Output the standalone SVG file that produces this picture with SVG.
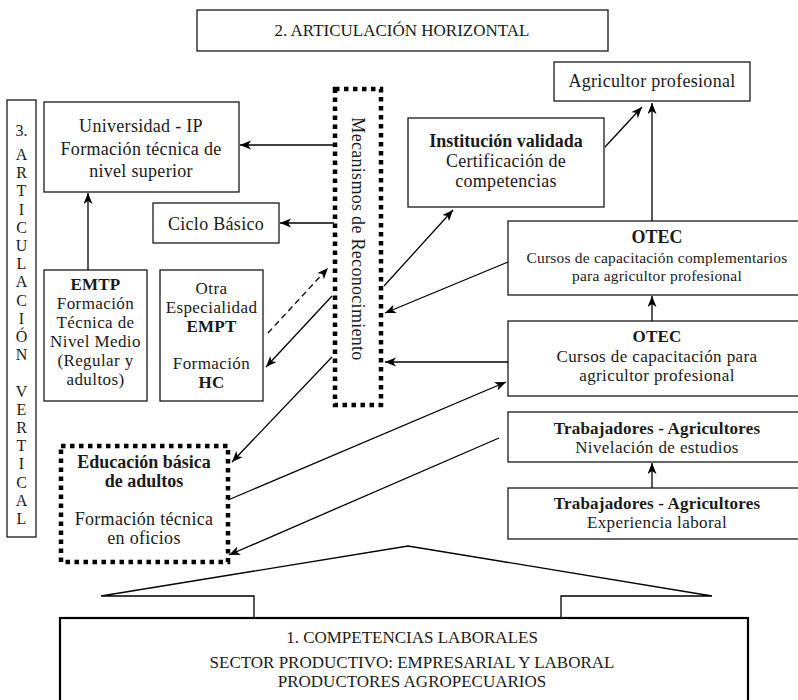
<svg xmlns="http://www.w3.org/2000/svg" width="798" height="700" viewBox="0 0 798 700">
<style>
text{font-family:"Liberation Serif","DejaVu Serif",serif;fill:#1a1a1a;text-anchor:middle}
.t{font-size:18px;letter-spacing:0.3px}
.b{font-size:18px;font-weight:bold}
.m{font-size:17px;letter-spacing:0.4px}
.mb{font-size:17px;font-weight:bold;letter-spacing:0.2px}
.c{font-size:17px}
.v{font-size:16px}
.s{font-size:15.5px;letter-spacing:0.2px}
.box{fill:#fff;stroke:#1a1a1a;stroke-width:1.3}
.dot{fill:#fff;stroke:#000;stroke-width:4.5;stroke-dasharray:4.5 4.5}
.thick{fill:#fff;stroke:#000;stroke-width:2.2}
.ln{fill:none;stroke:#000;stroke-width:1.3}
.ar{marker-end:url(#ah)}
</style>
<defs>
<marker id="ah" markerUnits="userSpaceOnUse" markerWidth="12" markerHeight="10" refX="11" refY="4.5" orient="auto">
<path d="M0,0 L11,4.5 L0,9 L3,4.5 z" fill="#000"/>
</marker>
</defs>
<rect width="798" height="700" fill="#fff"/>

<g id="articulacion-horizontal">
<rect class="box" x="197" y="10" width="411" height="41"/>
<text class="c" x="402" y="36">2. ARTICULACIÓN HORIZONTAL</text>
</g>

<g id="agricultor-profesional">
<rect class="box" x="554" y="62" width="196" height="39"/>
<text class="t" x="652" y="87">Agricultor profesional</text>
</g>

<g id="universidad">
<rect class="box" x="44" y="102" width="195" height="90"/>
<text class="t" x="141" y="132">Universidad - IP</text>
<text class="t" x="141" y="155">Formación técnica de</text>
<text class="t" x="141" y="177">nivel superior</text>
</g>

<g id="ciclo-basico">
<rect class="box" x="153" y="203" width="126" height="40"/>
<text class="t" x="216" y="230">Ciclo Básico</text>
</g>

<g id="institucion-validada">
<rect class="box" x="408" y="118" width="196" height="89"/>
<text class="b" x="506" y="147">Institución validada</text>
<text class="t" x="506" y="167">Certificación de</text>
<text class="t" x="506" y="187">competencias</text>
</g>

<g id="articulacion-vertical">
<rect class="box" x="7" y="100" width="29" height="437"/>
<g class="v">
<text x="21.5" y="136">3.</text>
<text x="21.5" y="160">A</text>
<text x="21.5" y="178.2">R</text>
<text x="21.5" y="196.4">T</text>
<text x="21.5" y="214.6">I</text>
<text x="21.5" y="232.8">C</text>
<text x="21.5" y="251">U</text>
<text x="21.5" y="269.2">L</text>
<text x="21.5" y="287.4">A</text>
<text x="21.5" y="305.6">C</text>
<text x="21.5" y="323.8">I</text>
<text x="21.5" y="342">Ó</text>
<text x="21.5" y="360.2">N</text>
<text x="21.5" y="396.6">V</text>
<text x="21.5" y="414.8">E</text>
<text x="21.5" y="433">R</text>
<text x="21.5" y="451.2">T</text>
<text x="21.5" y="469.4">I</text>
<text x="21.5" y="487.6">C</text>
<text x="21.5" y="505.8">A</text>
<text x="21.5" y="524">L</text>
</g>
</g>

<g id="mecanismos">
<rect class="dot" x="335" y="89" width="46" height="316"/>
<text class="t" transform="translate(352,239) rotate(90)" x="0" y="0">Mecanismos de Reconocimiento</text>
</g>

<g id="emtp">
<rect class="box" x="44" y="270" width="103" height="131"/>
<text class="mb" x="95.5" y="290">EMTP</text>
<text class="m" x="95.5" y="309">Formación</text>
<text class="m" x="95.5" y="328">Técnica de</text>
<text class="m" x="95.5" y="347">Nivel Medio</text>
<text class="m" x="95.5" y="366">(Regular y</text>
<text class="m" x="95.5" y="385">adultos)</text>
</g>

<g id="otra-especialidad">
<rect class="box" x="160" y="270" width="103" height="131"/>
<text class="m" x="211.5" y="294">Otra</text>
<text class="m" x="211.5" y="313">Especialidad</text>
<text class="mb" x="211.5" y="332">EMPT</text>
<text class="m" x="211.5" y="369">Formación</text>
<text class="mb" x="211.5" y="388">HC</text>
</g>

<g id="educacion-basica">
<rect class="dot" x="61" y="446" width="167" height="116"/>
<text class="b" x="144" y="468">Educación básica</text>
<text class="b" x="144" y="487">de adultos</text>
<text class="t" x="144" y="525">Formación técnica</text>
<text class="t" x="144" y="544">en oficios</text>
</g>

<g id="otec-complementarios">
<rect class="box" x="508" y="221" width="300" height="74"/>
<text class="b" x="657" y="243">OTEC</text>
<text class="s" x="657" y="263">Cursos de capacitación complementarios</text>
<text class="s" x="657" y="281">para agricultor profesional</text>
</g>

<g id="otec-cursos">
<rect class="box" x="508" y="321" width="300" height="75"/>
<text class="mb" x="657" y="342">OTEC</text>
<text class="m" x="657" y="362">Cursos de capacitación para</text>
<text class="m" x="657" y="381">agricultor profesional</text>
</g>

<g id="trabajadores-nivelacion">
<rect class="box" x="508" y="412" width="300" height="50"/>
<text class="mb" x="657" y="434">Trabajadores - Agricultores</text>
<text class="m" x="657" y="453">Nivelación de estudios</text>
</g>

<g id="trabajadores-experiencia">
<rect class="box" x="508" y="488" width="300" height="51"/>
<text class="mb" x="657" y="509">Trabajadores - Agricultores</text>
<text class="m" x="657" y="528">Experiencia laboral</text>
</g>

<g id="competencias-laborales">
<rect class="thick" x="60" y="618" width="688" height="100"/>
<text class="c" x="412" y="643">1. COMPETENCIAS LABORALES</text>
<text class="c" x="412" y="668">SECTOR PRODUCTIVO: EMPRESARIAL Y LABORAL</text>
<text class="c" x="412" y="687">PRODUCTORES AGROPECUARIOS</text>
</g>

<g id="connectors">
<path class="ln" d="M254 618 V596 H101 L408 546 L712 596 H561 V618"/>
<line class="ln ar" x1="334" y1="145" x2="240" y2="145"/>
<line class="ln ar" x1="334" y1="223" x2="280" y2="223"/>
<line class="ln ar" x1="88" y1="270" x2="88" y2="193"/>
<line class="ln ar" x1="268" y1="333" x2="328" y2="268" stroke-dasharray="6 4"/>
<line class="ln ar" x1="332" y1="296" x2="266" y2="367"/>
<line class="ln ar" x1="332" y1="357" x2="232" y2="462"/>
<line class="ln ar" x1="384" y1="286" x2="453" y2="210"/>
<line class="ln ar" x1="605" y1="147" x2="642" y2="107"/>
<line class="ln ar" x1="652" y1="221" x2="652" y2="103"/>
<line class="ln ar" x1="508" y1="262" x2="385" y2="313"/>
<line class="ln ar" x1="508" y1="362" x2="385" y2="362"/>
<line class="ln ar" x1="652" y1="321" x2="652" y2="296"/>
<line class="ln ar" x1="228" y1="500" x2="506" y2="382"/>
<line class="ln ar" x1="499" y1="438" x2="229" y2="555"/>
<line class="ln ar" x1="652" y1="488" x2="652" y2="463"/>
</g>
</svg>
